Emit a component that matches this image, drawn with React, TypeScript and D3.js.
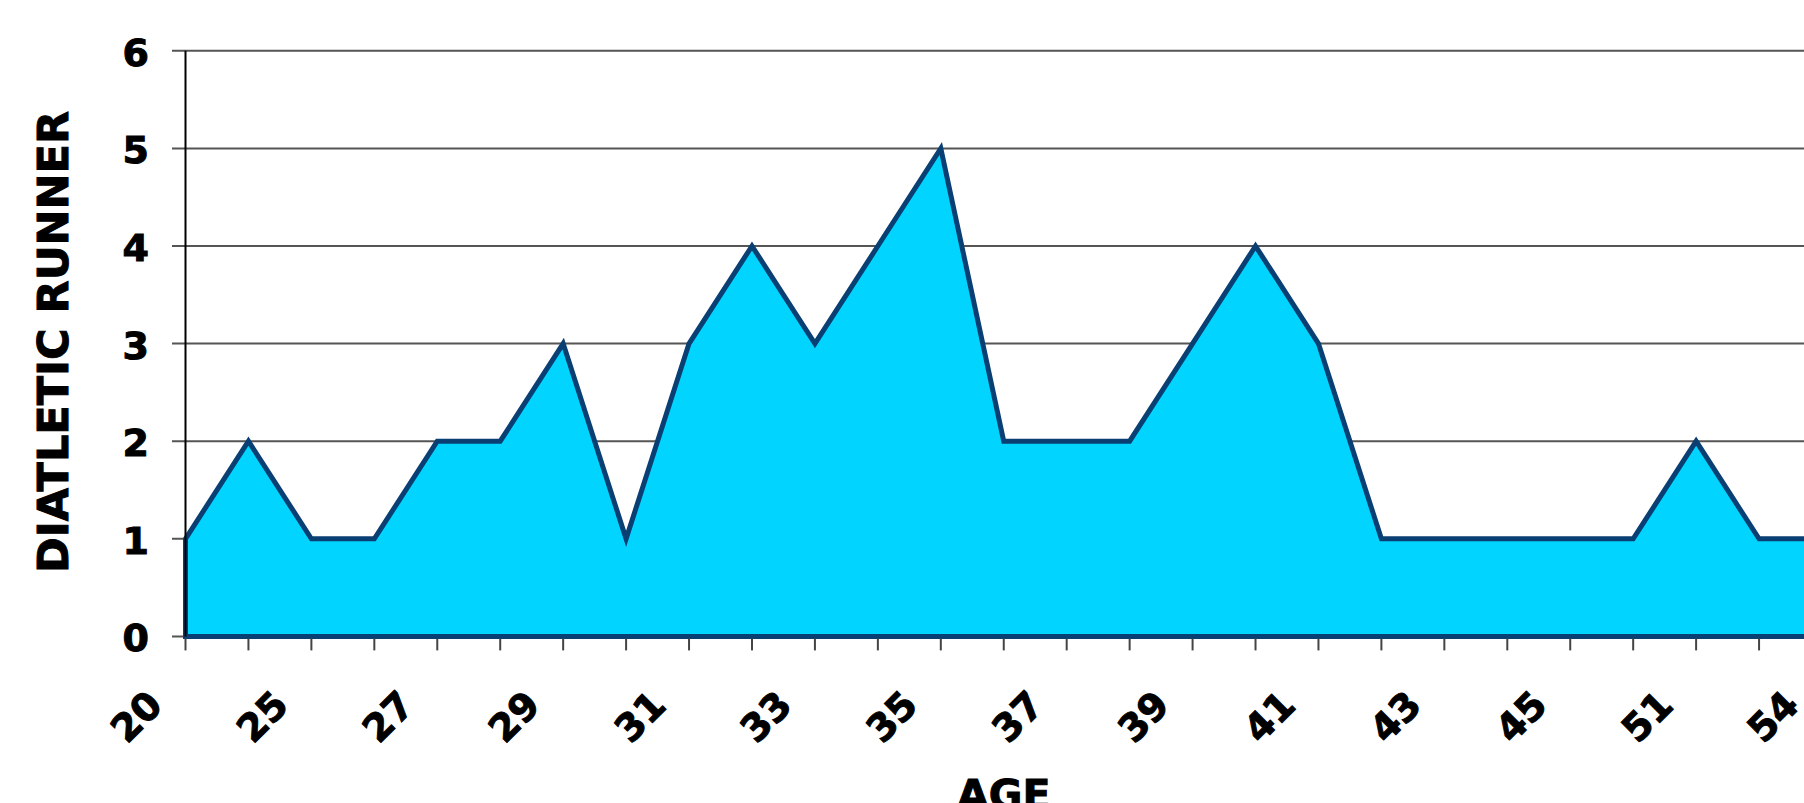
import React from "react";
import * as d3 from "d3";

// Categories (ages); only every other one carries a visible label
const categories: string[] = [
  "20", "23", "25", "26", "27", "28", "29", "30", "31", "32", "33", "34", "35", "36",
  "37", "38", "39", "40", "41", "42", "43", "44", "45", "48", "51", "52", "54",
];
const runners: number[] = [
  1, 2, 1, 1, 2, 2, 3, 1, 3, 4, 3, 4, 5, 2, 2, 2, 3, 4, 3, 1, 1, 1, 1, 1, 2, 1, 1,
];
const yTicks: number[] = [0, 1, 2, 3, 4, 5, 6];
const xTitle = "AGE";
const yTitle = "DIATLETIC RUNNER";

type Datum = { c: string; v: number };

export default function App() {
  const W = 1804;
  const H = 803;
  const left = 185.5;
  const right = 1822;
  const top = 50.8;
  const bottom = 636.4;

  const x = d3.scalePoint<string>().domain(categories).range([left, right]);
  const y = d3.scaleLinear().domain([0, 6]).range([bottom, top]);

  const data: Datum[] = categories.map((c, i) => ({ c, v: runners[i] }));
  const areaGen = d3
    .area<Datum>()
    .x((d) => x(d.c) as number)
    .y0(y(0))
    .y1((d) => y(d.v));
  const areaPath = areaGen(data) || "";

  const font = "Verdana, 'DejaVu Sans', sans-serif";

  return (
    <svg
      width={W}
      height={H}
      style={{ position: "absolute", left: 0, top: 0, overflow: "hidden", background: "#fff" }}
    >
      {/* gridlines + y ticks */}
      {yTicks.map((t) => (
        <line
          key={"g" + t}
          x1={left - 13.5}
          x2={right}
          y1={y(t)}
          y2={y(t)}
          stroke="#555"
          strokeWidth={2}
        />
      ))}
      {/* area */}
      <path
        d={areaPath}
        fill="#00D4FF"
        stroke="#0A3F73"
        strokeWidth={5}
        strokeLinejoin="miter"
        strokeMiterlimit={10}
      />
      {/* y axis line */}
      <line x1={left} x2={left} y1={top} y2={bottom} stroke="#000" strokeWidth={2} />
      {/* x ticks */}
      {categories.map((c) => (
        <line
          key={"t" + c}
          x1={x(c)}
          x2={x(c)}
          y1={bottom + 2}
          y2={bottom + 14}
          stroke="#444"
          strokeWidth={2}
        />
      ))}
      {/* y tick labels */}
      {yTicks.map((t) => (
        <text
          key={"yl" + t}
          x={149}
          y={y(t) + 15}
          textAnchor="end"
          fontFamily={font}
          fontWeight="bold"
          fontSize={38}
          fill="#000"
          stroke="#000"
          strokeWidth={1}
        >
          {t}
        </text>
      ))}
      {/* x tick labels (every other category) */}
      {categories.map((c, i) =>
        i % 2 === 0 ? (
          <text
            key={"xl" + c}
            transform={`translate(${(x(c) as number) - 21},${bottom + 71}) rotate(-45)`}
            textAnchor="end"
            fontFamily={font}
            fontWeight="bold"
            fontSize={38}
            fill="#000"
            stroke="#000"
            strokeWidth={1}
          >
            {c}
          </text>
        ) : null
      )}
      {/* axis titles */}
      <text
        transform={`translate(${68},${342}) rotate(-90)`}
        textAnchor="middle"
        fontFamily={font}
        fontWeight="bold"
        fontSize={43}
        fill="#000"
        stroke="#000"
        strokeWidth={1}
      >
        {yTitle}
      </text>
      <text
        x={(left + right) / 2}
        y={809}
        textAnchor="middle"
        fontFamily={font}
        fontWeight="bold"
        fontSize={41}
        fill="#000"
        stroke="#000"
        strokeWidth={1}
      >
        {xTitle}
      </text>
    </svg>
  );
}
